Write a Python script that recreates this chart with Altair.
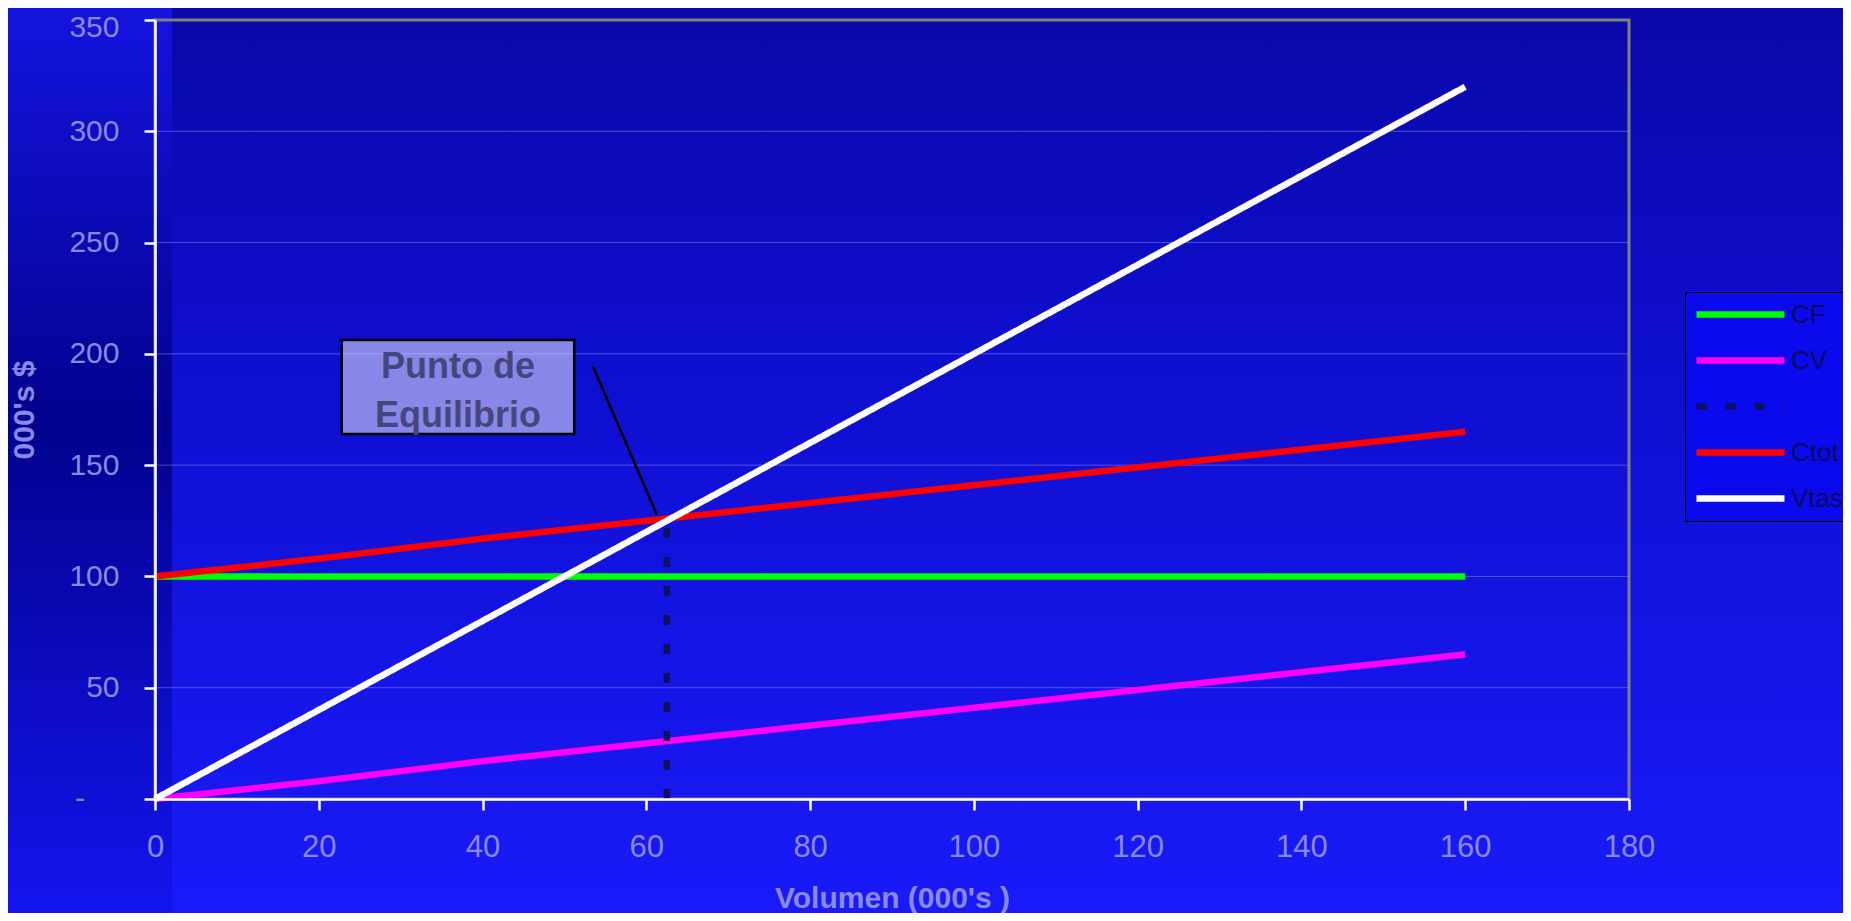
import altair as alt
import pandas as pd

# ---------------- data ----------------
vol = [0, 10, 20, 40, 60, 80, 100, 120, 140, 160]
cf = [100, 100, 100, 100, 100, 100, 100, 100, 100, 100]
cv = [0, 4, 8, 17, 25, 33, 41, 49, 57, 65]
ctot = [100, 104, 108, 117, 125, 133, 141, 149, 157, 165]
vtas = [0, 20, 40, 80, 120, 160, 200, 240, 280, 320]

eq_x = [62.5, 62.5]
eq_y = [0, 124]

series_names = ["CF", "CV", " ", "Ctot", "Vtas"]
series_colors = ["#00ff00", "#ff00ff", "#101062", "#ff0000", "#ffffff"]
series_dash = [[1, 0], [1, 0], [10, 19], [1, 0], [1, 0]]
series_width = [6.5, 6.5, 5.5, 6.5, 7]

x_ticks = [0, 20, 40, 60, 80, 100, 120, 140, 160, 180]
y_ticks = [0, 50, 100, 150, 200, 250, 300, 350]
grid_vals = [50, 100, 150, 200, 250, 300]
x_domain = [0, 180]
y_domain = [0, 350]
zero_label = ["-"]

note_lines = ["Punto de", "Equilibrio"]
note_text_x = [37.0, 37.0]
note_text_y = [189.0, 167.0]
note_box_x = [22.8]
note_box_x2 = [51.2]
note_box_y = [164.0]
note_box_y2 = [206.2]
leader_x = [53.5]
leader_y = [194.2]
leader_x2 = [61.3]
leader_y2 = [127.6]

# ---------------- tables ----------------
rows = []
for name, yv_list in [("CF", cf), ("CV", cv)]:
    for i, (xv, yv) in enumerate(zip(vol, yv_list)):
        rows.append({"x": xv, "y": yv, "series": name, "idx": i})
for i, (xv, yv) in enumerate(zip(eq_x, eq_y)):
    rows.append({"x": xv, "y": yv, "series": " ", "idx": i})
for name, yv_list in [("Ctot", ctot), ("Vtas", vtas)]:
    for i, (xv, yv) in enumerate(zip(vol, yv_list)):
        rows.append({"x": xv, "y": yv, "series": name, "idx": i})
lines_df = pd.DataFrame(rows)

grid_df = pd.DataFrame({"y": grid_vals})
border_df = pd.DataFrame({"x": [x_domain[0]], "x2": [x_domain[1]],
                          "y": [y_domain[0]], "y2": [y_domain[1]]})
box_df = pd.DataFrame({"x": note_box_x, "x2": note_box_x2, "y": note_box_y, "y2": note_box_y2})
text_df = pd.DataFrame({"x": note_text_x, "y": note_text_y, "t": note_lines})
leader_df = pd.DataFrame({"x": leader_x, "y": leader_y, "x2": leader_x2, "y2": leader_y2})
zero_df = pd.DataFrame({"x": [x_domain[0]], "y": [y_ticks[0]], "t": zero_label})

W, H = 1474, 779
PAD = {"left": 147, "top": 12, "right": 214, "bottom": 114}

xs = alt.Scale(domain=x_domain, nice=False, zero=False)
ys = alt.Scale(domain=y_domain, nice=False, zero=False)

LABEL_COLOR = "#8a8ae6"
NARROW = "Liberation Sans Narrow, Arial Narrow, Liberation Sans"

x_axis = alt.Axis(
    values=x_ticks, grid=False, domainColor="#ffffff", domainWidth=2.5,
    tickColor="#ffffff", tickWidth=2.5, tickSize=11,
    labelFont=NARROW, labelFontSize=31,
    labelColor=LABEL_COLOR, labelPadding=22, labelFlush=False,
    title="Volumen (000's )", titleFont=NARROW,
    titleFontSize=30, titleFontWeight="bold", titleColor=LABEL_COLOR,
    titleX=737, titleY=99, titleBaseline="middle", titleAlign="center", zindex=1,
)
y_axis = alt.Axis(
    values=y_ticks, grid=False, domainColor="#ffffff", domainWidth=2.5,
    tickColor="#ffffff", tickWidth=2.5, tickSize=11,
    labelFont="Liberation Sans", labelFontSize=30, labelColor=LABEL_COLOR, labelPadding=25,
    labelFlush=True, labelFlushOffset=8,
    labelExpr="datum.value == 0 ? '' : datum.label",
    title="000's $", titleFont="Liberation Sans", titleFontSize=30, titleFontWeight="bold",
    titleColor=LABEL_COLOR, titleAngle=270, titleX=-131, titleY=389.5,
    titleAlign="center", titleBaseline="middle", zindex=1,
)

X = lambda f="x": alt.X(f"{f}:Q", scale=xs, axis=x_axis)
Y = lambda f="y": alt.Y(f"{f}:Q", scale=ys, axis=y_axis)

# ---------------- background (decoration) ----------------
bg = alt.Chart(pd.DataFrame({"d": [0]})).mark_rect(
    color=alt.Gradient(
        gradient="linear", x1=0, y1=0, x2=0, y2=1,
        stops=[alt.GradientStop(color="#0909a8", offset=0),
               alt.GradientStop(color="#0e0ecc", offset=0.35),
               alt.GradientStop(color="#1a1afa", offset=1)],
    )
).encode(x=alt.value(-PAD["left"]), x2=alt.value(W + PAD["right"]),
         y=alt.value(-PAD["top"]), y2=alt.value(H + PAD["bottom"]))

strip = alt.Chart(pd.DataFrame({"d": [0]})).mark_rect(
    color=alt.Gradient(
        gradient="linear", x1=0, y1=0, x2=0, y2=1,
        stops=[alt.GradientStop(color="#1414e0", offset=0),
               alt.GradientStop(color="#02028e", offset=0.46),
               alt.GradientStop(color="#1414ee", offset=1)],
    )
).encode(x=alt.value(-PAD["left"]), x2=alt.value(17),
         y=alt.value(-PAD["top"]), y2=alt.value(H + PAD["bottom"]))

grid = alt.Chart(grid_df).mark_rule(color="#a0a0ff", opacity=0.45, strokeWidth=1).encode(
    y=Y()
)

border = alt.Chart(border_df).mark_rect(filled=False, stroke="#808080", strokeWidth=3).encode(
    x=X(), x2="x2:Q", y=Y(), y2="y2:Q",
)

zero_txt = alt.Chart(zero_df).mark_text(
    font="Liberation Sans", fontSize=30, color=LABEL_COLOR, align="center",
    baseline="middle", dx=-75,
).encode(x=X(), y=Y(), text="t:N")

box = alt.Chart(box_df).mark_rect(fill="#ffffff", fillOpacity=0.5, stroke="#000000", strokeWidth=2.5).encode(
    x=X(), x2="x2:Q", y=Y(), y2="y2:Q",
)

note = alt.Chart(text_df).mark_text(
    font="Liberation Sans", fontSize=36, fontWeight="bold", color="#46467e",
    align="center", baseline="alphabetic",
).encode(x=X(), y=Y(), text="t:N")

leader = alt.Chart(leader_df).mark_rule(color="#000000", strokeWidth=2.5).encode(
    x=X(), y=Y(), x2="x2:Q", y2="y2:Q",
)

legend = alt.Legend(
    orient="none", legendX=1530, legendY=272, title=None,
    symbolType="stroke", symbolSize=7744, symbolStrokeWidth=6, clipHeight=29,
    rowPadding=17, labelFont=NARROW,
    labelFontSize=26, labelColor="#0a0a60", labelOffset=3, padding=8,
    fillColor="#0a0aec", strokeColor="#000000",
)

lines = alt.Chart(lines_df).mark_line(strokeCap="butt").encode(
    x=X(), y=Y(),
    color=alt.Color("series:N", scale=alt.Scale(domain=series_names, range=series_colors), legend=legend),
    strokeDash=alt.StrokeDash("series:N", scale=alt.Scale(domain=series_names, range=series_dash), legend=legend),
    strokeWidth=alt.StrokeWidth("series:N", scale=alt.Scale(domain=series_names, range=series_width), legend=None),
    detail="series:N",
    order=alt.Order("idx:Q"),
)

chart = alt.layer(bg, strip, grid, border, zero_txt, box, note, leader, lines).properties(
    width=W, height=H,
    autosize=alt.AutoSizeParams(type="none"),
    padding=PAD,
    background="#1010c8",
).configure_view(stroke=None)

chart.save("out.html", embed_options={"renderer": "svg", "actions": False})
